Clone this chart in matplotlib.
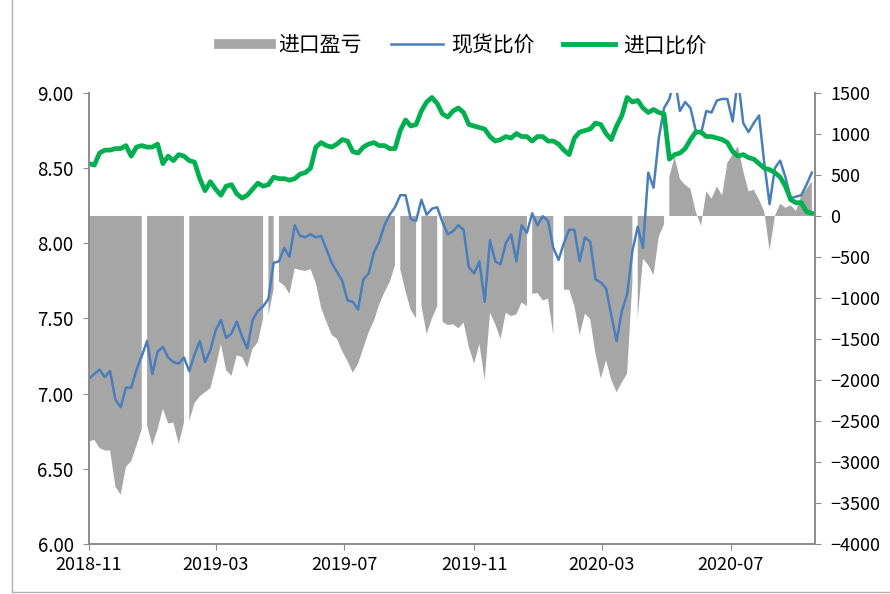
import numpy as np
import pandas as pd
import matplotlib
matplotlib.use("Agg")
import matplotlib.pyplot as plt
import matplotlib.dates as mdates
from matplotlib.lines import Line2D

plt.rcParams['font.family'] = ['Noto Sans CJK SC', 'DejaVu Sans']

nan = np.nan

# 5-day sampling, 2018-11-01 .. 2020-09-16
dates = pd.date_range('2018-11-01', periods=138, freq='5D')

# 进口比价 (left axis)
import_ratio = [8.53, 8.52, 8.60, 8.62, 8.62, 8.63, 8.63, 8.65, 8.58, 8.64,
                8.65, 8.64, 8.64, 8.66, 8.53, 8.58, 8.55, 8.59, 8.58, 8.55,
                8.54, 8.43, 8.35, 8.41, 8.36, 8.32, 8.38, 8.39, 8.33, 8.30,
                8.32, 8.36, 8.40, 8.38, 8.39, 8.44, 8.43, 8.43, 8.42, 8.43,
                8.46, 8.47, 8.50, 8.64, 8.67, 8.65, 8.64, 8.66, 8.69, 8.68,
                8.61, 8.60, 8.64, 8.66, 8.67, 8.65, 8.65, 8.63, 8.63, 8.75,
                8.82, 8.78, 8.79, 8.88, 8.94, 8.97, 8.93, 8.86, 8.84, 8.88,
                8.90, 8.87, 8.79, 8.78, 8.77, 8.76, 8.71, 8.68, 8.69, 8.71,
                8.70, 8.73, 8.71, 8.71, 8.68, 8.71, 8.71, 8.68, 8.68, 8.66,
                8.62, 8.59, 8.70, 8.74, 8.75, 8.76, 8.80, 8.79, 8.73, 8.69,
                8.78, 8.85, 8.97, 8.94, 8.95, 8.90, 8.87, 8.89, 8.87, 8.86,
                8.56, 8.59, 8.60, 8.63, 8.69, 8.74, 8.74, 8.71, 8.71, 8.70,
                8.69, 8.67, 8.61, 8.58, 8.59, 8.57, 8.56, 8.53, 8.50, 8.49,
                8.47, 8.44, 8.38, 8.29, 8.27, 8.27, 8.21, 8.20]

# 现货比价 (left axis)
spot_ratio = [7.10, 7.13, 7.16, 7.11, 7.15, 6.96, 6.91, 7.04, 7.04, 7.16,
              7.25, 7.35, 7.13, 7.28, 7.31, 7.24, 7.21, 7.20, 7.24, 7.15,
              7.26, 7.35, 7.21, 7.29, 7.42, 7.49, 7.37, 7.40, 7.48, 7.38,
              7.30, 7.49, 7.55, 7.58, 7.63, 7.87, 7.88, 7.97, 7.91, 8.12,
              8.05, 8.04, 8.06, 8.04, 8.05, 7.96, 7.87, 7.81, 7.75, 7.62,
              7.61, 7.56, 7.76, 7.80, 7.94, 8.01, 8.12, 8.19, 8.24, 8.32,
              8.32, 8.16, 8.15, 8.29, 8.19, 8.23, 8.24, 8.14, 8.06, 8.08,
              8.12, 8.09, 7.84, 7.80, 7.88, 7.61, 8.02, 7.88, 7.86, 8.00,
              8.06, 7.88, 8.12, 8.07, 8.20, 8.12, 8.18, 8.15, 7.97, 7.89,
              8.00, 8.09, 8.09, 7.88, 8.04, 8.01, 7.76, 7.74, 7.70, 7.52,
              7.35, 7.55, 7.66, 7.95, 8.11, 7.97, 8.47, 8.37, 8.70, 8.90,
              8.96, 9.10, 8.88, 8.94, 8.90, 8.75, 8.73, 8.88, 8.87, 8.95,
              8.96, 8.96, 8.81, 9.10, 8.80, 8.74, 8.80, 8.85, 8.53, 8.26,
              8.50, 8.55, 8.44, 8.30, 8.31, 8.32, 8.39, 8.47]

# 进口盈亏 (right axis)
import_pnl = [-2750, -2730, -2830, -2860, -2860, -3300, -3400, -3060, -2990, -2800,
              -2600, -2550, -2800, -2600, -2350, -2530, -2520, -2780, -2520, -2500,
              -2280, -2200, -2150, -2100, -1850, -1560, -1880, -1950, -1700, -1720,
              -1850, -1620, -1540, -1250, -1210, -890, -800, -850, -950, -640,
              -660, -670, -650, -820, -1120, -1290, -1450, -1500, -1650, -1770,
              -1910, -1800, -1610, -1420, -1280, -1080, -930, -805, -600, -650,
              -920, -1150, -1250, -1090, -1440, -1250, -1100, -1290, -1330, -1320,
              -1370, -1300, -1600, -1800, -1560, -2000, -1180, -1320, -1500, -1180,
              -1220, -1200, -1055, -1100, -950, -940, -1030, -1010, -1450, nan,
              -900, -900, -1100, -1450, -1190, -1260, -1680, -1980, -1760, -2000,
              -2150, -2030, -1920, -800, -1250, -520, -600, -720, -250, -100,
              480, 720, 450, 380, 330, 50, -120, 300, 210, 360,
              250, 650, 750, 850, 550, 300, 320, 200, 50, -420,
              0, 150, 100, 130, 60, 250, 330, 420]

# days with no 进口盈亏 quote (holidays etc.)
pnl_missing = ['2018-12-23', '2019-02-01', '2019-04-17', '2019-04-27', '2019-08-20',
               '2019-09-09', '2019-09-29', '2019-12-23', '2020-04-01', '2020-05-01']

labels = ['进口盈亏', '现货比价', '进口比价']
c_gray, c_blue, c_green = '#a6a6a6', '#4a7ebb', '#00b050'
axis_gray = '#8c8c8c'

pnl = pd.concat([pd.Series(import_pnl, index=dates, dtype=float),
                 pd.Series(nan, index=pd.to_datetime(pnl_missing))]).sort_index()

fig = plt.figure(figsize=(8.9, 5.94), dpi=100)
ax = fig.add_axes([0.1, 0.0842, 0.8157, 0.7593])
ax2 = ax.twinx()

ax2.fill_between(pnl.index, 0, pnl.values, where=pnl.notna().values,
                 color=c_gray, linewidth=0)
ax.plot(dates, spot_ratio, color=c_blue, lw=1.8)
ax.plot(dates, import_ratio, color=c_green, lw=3.4, solid_joinstyle='round')

ax.set_zorder(ax2.get_zorder() + 1)
ax.patch.set_visible(False)

ax.set_xlim(pd.Timestamp('2018-11-01'), pd.Timestamp('2020-09-19'))
ax.set_ylim(6, 9)
ax.set_yticks(np.arange(6, 9.01, 0.5))
ax.yaxis.set_major_formatter(plt.FormatStrFormatter('%.2f'))
ax2.set_ylim(-4000, 1500)
ax2.set_yticks(np.arange(-4000, 1501, 500))

ax.xaxis.set_major_locator(mdates.MonthLocator(bymonth=[3, 7, 11]))
ax.xaxis.set_major_formatter(mdates.DateFormatter('%Y-%m'))

for a in (ax, ax2):
    a.spines['top'].set_visible(False)
    for s in a.spines.values():
        s.set_color(axis_gray)
        s.set_linewidth(1.2)
    a.tick_params(colors=axis_gray, labelcolor='black', labelsize=13, length=4)
ax.tick_params(axis='y', pad=7, labelsize=13.5)
ax2.tick_params(axis='y', pad=7)
ax.tick_params(axis='x', pad=5)

handles = [Line2D([], [], color=c_gray, lw=7),
           Line2D([], [], color=c_blue, lw=1.8),
           Line2D([], [], color=c_green, lw=3.5)]
fig.legend(handles, labels, loc='center', bbox_to_anchor=(0.52, 0.924), ncol=3,
           frameon=False, fontsize=15, handlelength=2.5, handletextpad=0.35,
           columnspacing=1.4)

# outer chart frame
fig.add_artist(Line2D([12 / 890, 12 / 890], [1.0, 1 - 592 / 594],
                      transform=fig.transFigure, color='#b0b0b0', lw=1))
fig.add_artist(Line2D([12 / 890, 1.0], [1 - 592 / 594, 1 - 592 / 594],
                      transform=fig.transFigure, color='#b0b0b0', lw=1))

fig.savefig('out.png', dpi=100)
